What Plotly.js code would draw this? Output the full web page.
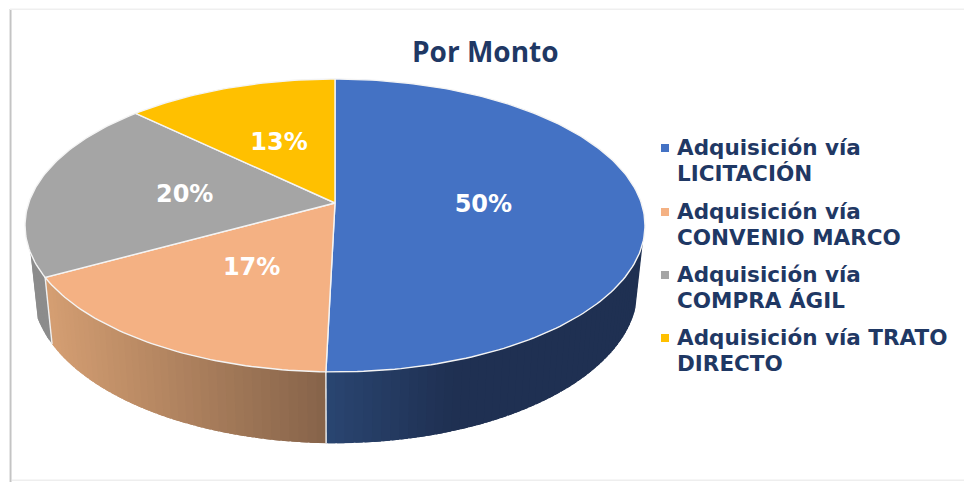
<!DOCTYPE html>
<html><head><meta charset="utf-8">
<script src="https://cdn.plot.ly/plotly-3.0.1.min.js"></script>
<style>html,body{margin:0;padding:0;background:#fff}#c{width:964px;height:482px}</style>
</head><body><div id="c"></div>
<script>
// ---- data ----
const categories = ["Adquisición vía<br>LICITACIÓN","Adquisición vía<br>CONVENIO MARCO","Adquisición vía<br>COMPRA ÁGIL","Adquisición vía TRATO<br>DIRECTO"];
const values = [50.4, 16.6, 20.2, 12.8];
const colors = ["#4472c4","#f4b183","#a5a5a5","#ffc000"];
const wallLight = ["#2a4672","#d49e72","#8c8c8c","#c09000"];
const wallDark  = ["#1f3052","#87644a","#8c8c8c","#a07800"];
const wallShadeFrom = [327,50,30,0];
const wallShadeSpan = [130,277,20,1];
const labelRadius = [0.484,0.49,0.5,0.5];
const chartTitle = "Por Monto";
const navy = "#1f3864";

// ---- perspective projection of the disc ----
const cx=335, cy=203, R=306.3, S=143, k=0.1536;
const R2=299, S2=150, cy2=266;
const rad=d=>d*Math.PI/180;
function topPt(th,r=1){const u=r*Math.sin(rad(th)),v=r*Math.cos(rad(th)),w=1+k*v;return [cx+R*u/w,cy-S*v/w];}
function botPt(th){const u=Math.sin(rad(th)),v=Math.cos(rad(th)),w=1+k*v;return [cx+R2*u/w,cy2-S2*v/w];}
function mix(a,b,t){const p=s=>[1,3,5].map(i=>parseInt(s.substr(i,2),16));const A=p(a),B=p(b);return `rgb(${A.map((c,i)=>Math.round(c+(B[i]-c)*t)).join(",")})`;}

const total=values.reduce((a,b)=>a+b,0);
let acc=0; const spans=values.map(v=>{const s=[acc/total*360,(acc+v)/total*360];acc+=v;return s;});
const wallFrom=105.5, wallTo=250.7;
const traces=[];

// side wall, drawn as narrow overlapping bands so that it can shade from light to dark
spans.forEach((sp,i)=>{
  const a=Math.max(sp[0],wallFrom), b=Math.min(sp[1],wallTo);
  if(b<=a) return;
  const n=Math.ceil((b-a)/1.5);
  for(let j=0;j<n;j++){
    const t0=a+(b-a)*j/n, t1=Math.min(b,a+(b-a)*(j+1)/n+1.2);
    const pts=[];
    for(let q=0;q<=3;q++) pts.push(topPt(t0+(t1-t0)*q/3));
    for(let q=3;q>=0;q--) pts.push(botPt(t0+(t1-t0)*q/3));
    pts.push(pts[0]);
    const t=Math.min(1,Math.max(0,(topPt(t0)[0]-wallShadeFrom[i])/wallShadeSpan[i]));
    const col=mix(wallLight[i],wallDark[i],t);
    traces.push({type:"scatter",mode:"lines",x:pts.map(q=>q[0]),y:pts.map(q=>q[1]),fill:"toself",fillcolor:col,line:{width:0},hoverinfo:"skip",showlegend:false});
  }
});
// white seams on the wall
spans.forEach(sp=>{
  const th=sp[1];
  if(th>wallFrom&&th<wallTo){const p=[topPt(th),botPt(th)];
    traces.push({type:"scatter",mode:"lines",x:p.map(q=>q[0]),y:p.map(q=>q[1]),line:{color:"#f0f0f0",width:1.4},hoverinfo:"skip",showlegend:false});}
});

// top face
spans.forEach((sp,i)=>{
  const pts=[[cx,cy]];
  const n=Math.ceil(sp[1]-sp[0]);
  for(let j=0;j<=n;j++) pts.push(topPt(sp[0]+(sp[1]-sp[0])*j/n));
  pts.push([cx,cy]);
  traces.push({type:"scatter",mode:"lines",x:pts.map(q=>q[0]),y:pts.map(q=>q[1]),fill:"toself",fillcolor:colors[i],line:{color:"#f4f4f4",width:1.4},hoverinfo:"skip",showlegend:false});
});

// percentage labels
const lab=spans.map((sp,i)=>topPt((sp[0]+sp[1])/2,labelRadius[i]));
traces.push({type:"scatter",mode:"text",x:lab.map(q=>q[0]),y:lab.map(q=>q[1]+2),
  text:values.map(v=>Math.round(v/total*100)+"%"),textposition:"middle center",
  textfont:{family:"DejaVu Sans",size:24,color:"#ffffff",weight:700},hoverinfo:"skip",showlegend:false});

// legend
const legendY=[160,224,287,350];
const markY=[148,212,275,338];
traces.push({type:"scatter",mode:"markers",x:markY.map(()=>665),y:markY,
  marker:{symbol:"square",size:8,color:colors,line:{width:0}},hoverinfo:"skip",showlegend:false});
const annotations=[];
categories.forEach((c,i)=>c.split("<br>").forEach((line,j)=>annotations.push({xref:"x",yref:"y",x:675,y:legendY[i]+(j?13:-13),text:line,showarrow:false,xanchor:"left",yanchor:"middle",align:"left",
  font:{family:"DejaVu Sans",size:21.5,color:navy,weight:700}})));
annotations.push({xref:"x",yref:"y",x:485,y:51,text:chartTitle,showarrow:false,xanchor:"center",yanchor:"middle",
  font:{family:"Open Sans",size:28,color:navy,weight:700}});

// frame shadow
const frame=[
 {x0:9,x1:10,y0:9,y1:482,c:"#e6e6e6"},{x0:10,x1:11,y0:9,y1:482,c:"#c4c4c4"},{x0:11,x1:12,y0:9,y1:482,c:"#e0e0e0"},
 {x0:10,x1:964,y0:8.5,y1:10,c:"#efefef"},{x0:12,x1:964,y0:479.5,y1:481,c:"#eeeeee"}
].map(f=>({type:"rect",xref:"x",yref:"y",x0:f.x0,x1:f.x1,y0:f.y0,y1:f.y1,fillcolor:f.c,line:{width:0},layer:"below"}));

const ax={visible:false,fixedrange:true};
Plotly.newPlot("c",traces,{
  width:964,height:482,margin:{l:0,r:0,t:0,b:0},paper_bgcolor:"#fff",plot_bgcolor:"#fff",showlegend:false,
  xaxis:Object.assign({range:[0,964]},ax),yaxis:Object.assign({range:[482,0]},ax),
  annotations,shapes:frame
},{displayModeBar:false,staticPlot:true});
</script></body></html>
